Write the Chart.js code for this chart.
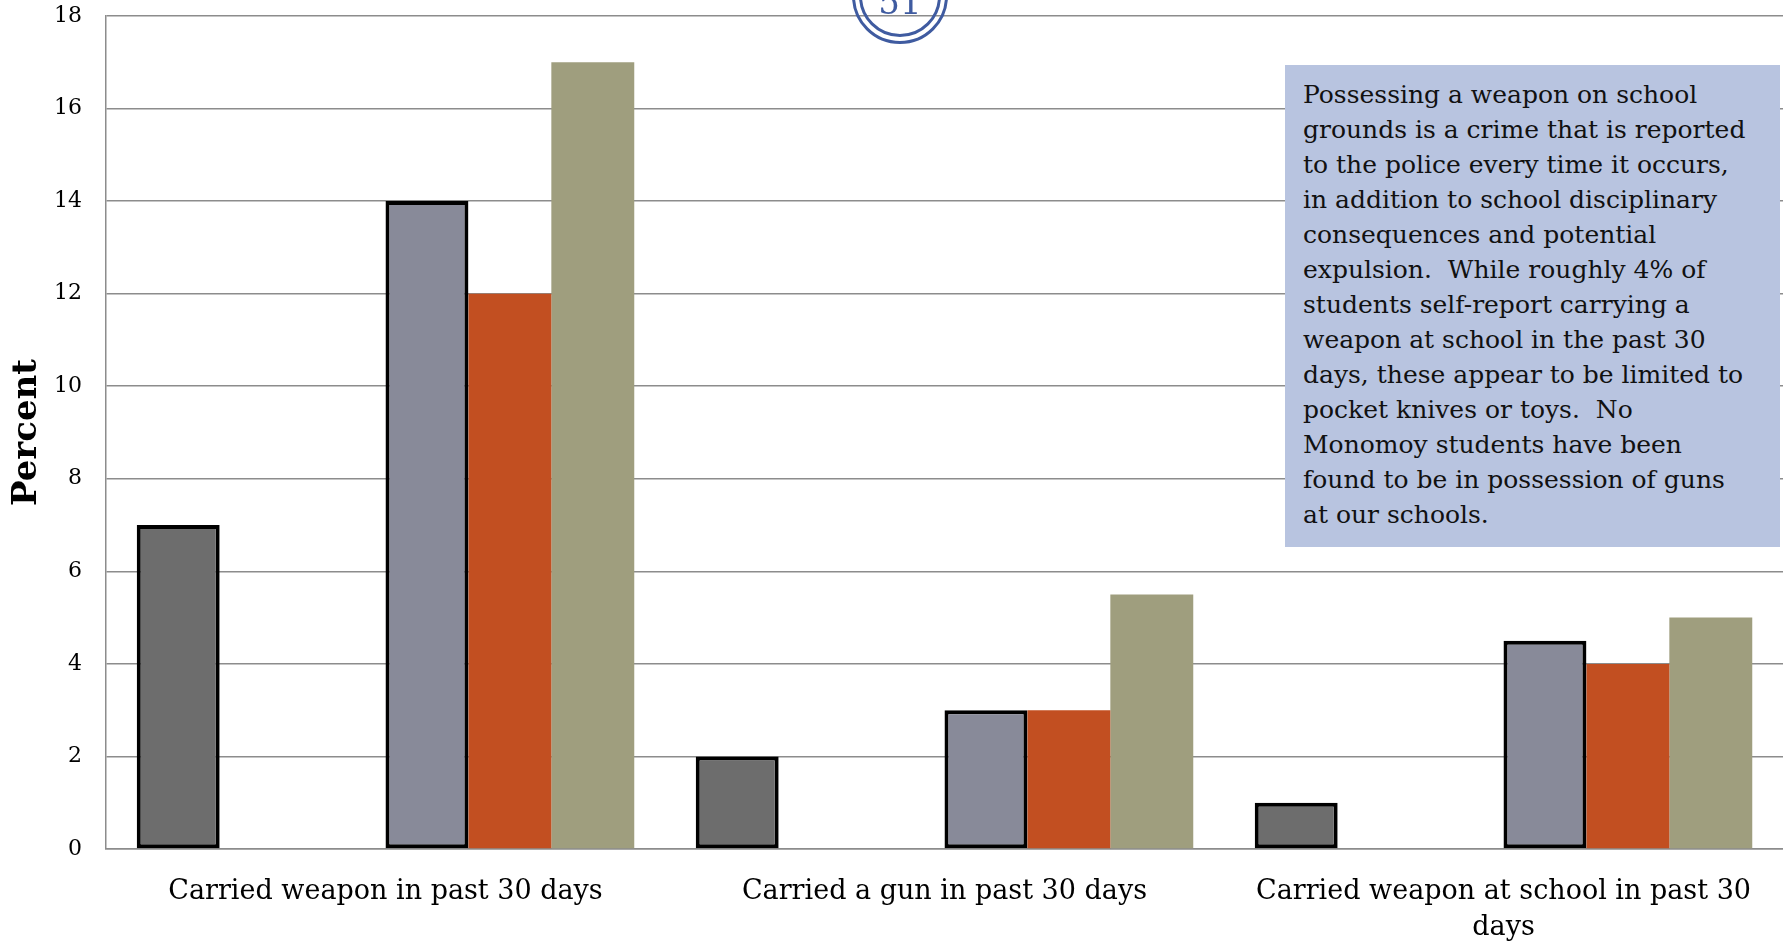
<!DOCTYPE html>
<html>
<head>
<meta charset="utf-8">
<title>Weapons</title>
<script src="https://cdn.jsdelivr.net/npm/chart.js@4.4.1/dist/chart.umd.min.js"></script>
<style>
  html, body { margin: 0; padding: 0; background: #fff; }
  #wrap { position: relative; width: 1783px; height: 941px; overflow: hidden; }
  #note {
    position: absolute; left: 1285px; top: 65px; width: 495px; height: 482px;
    box-sizing: border-box; padding: 12px 0 0 18px;
    background: #b8c4e0; color: #111;
    font-family: 'DejaVu Serif', serif; font-size: 25px; line-height: 35px;
    white-space: pre;
  }
  #page {
    position: absolute; left: 852px; top: -52px; width: 96px; height: 96px;
    box-sizing: border-box; border: 10px double #3f5ba0; border-radius: 50%;
  }
  #pagenum {
    position: absolute; left: 850px; top: -14px; width: 100px; text-align: center;
    font-family: 'DejaVu Serif', serif; font-size: 34px; line-height: 32px; color: #3f5ba0;
  }
</style>
</head>
<body>
<div id="wrap">
  <canvas id="weaponChart" width="1783" height="941"></canvas>
  <div id="page"></div>
  <div id="pagenum">51</div>
  <div id="note">Possessing a weapon on school
grounds is a crime that is reported
to the police every time it occurs,
in addition to school disciplinary
consequences and potential
expulsion.  While roughly 4% of
students self-report carrying a
weapon at school in the past 30
days, these appear to be limited to
pocket knives or toys.  No
Monomoy students have been
found to be in possession of guns
at our schools.</div>
</div>
<script>
// categories and values
const categories = [
  'Carried weapon in past 30 days',
  'Carried a gun in past 30 days',
  ['Carried weapon at school in past 30', 'days']
];
const seriesNames = ['Series 1', 'Series 2', 'Series 3', 'Series 4', 'Series 5', 'Series 6'];
const series1 = [7, 2, 1];
const series2 = [null, null, null];
const series3 = [null, null, null];
const series4 = [14, 3, 4.5];
const series5 = [12, 3, 4];
const series6 = [17, 5.5, 5];
const yTicks = [0, 2, 4, 6, 8, 10, 12, 14, 16, 18];

const colors = ['#6d6d6d', '#888a99', '#888a99', '#888a99', '#c24f21', '#9f9e7e'];
const borders = [4, 0, 0, 4, 0, 0];
const allSeries = [series1, series2, series3, series4, series5, series6];

const serif = "'DejaVu Serif', serif";

new Chart(document.getElementById('weaponChart'), {
  type: 'bar',
  data: {
    labels: categories,
    datasets: allSeries.map((values, i) => ({
      label: seriesNames[i],
      data: values,
      backgroundColor: colors[i],
      borderColor: '#000',
      borderWidth: borders[i],
      borderSkipped: false,
      categoryPercentage: 0.89,
      barPercentage: 1
    }))
  },
  options: {
    responsive: false,
    animation: false,
    layout: { padding: { top: 16, right: 0, left: 0, bottom: 0 } },
    plugins: {
      legend: { display: false },
      tooltip: { enabled: false }
    },
    scales: {
      x: {
        grid: { display: false },
        border: { display: true, color: '#8c8c8c', width: 1.5 },
        ticks: {
          color: '#000',
          font: { family: serif, size: 27, lineHeight: 1.33 },
          padding: 17,
          maxRotation: 0,
          autoSkip: false
        },
        afterFit: (scale) => { scale.height = 92; }
      },
      y: {
        min: 0,
        max: 18,
        afterBuildTicks: (scale) => { scale.ticks = yTicks.map(v => ({ value: v })); },
        grid: { color: '#8c8c8c', lineWidth: 1.5, drawTicks: false },
        border: { display: true, color: '#8c8c8c', width: 1.5 },
        ticks: {
          color: '#000',
          font: { family: serif, size: 22 },
          padding: 24
        },
        title: {
          display: true,
          text: 'Percent',
          color: '#000',
          font: { family: serif, size: 34, weight: 'bold' },
          padding: { top: 7, bottom: 0 }
        },
        afterFit: (scale) => {
          scale.width = 106;
          scale.paddingTop = 0;
          scale.paddingBottom = 0;
        }
      }
    }
  }
});
</script>
</body>
</html>
